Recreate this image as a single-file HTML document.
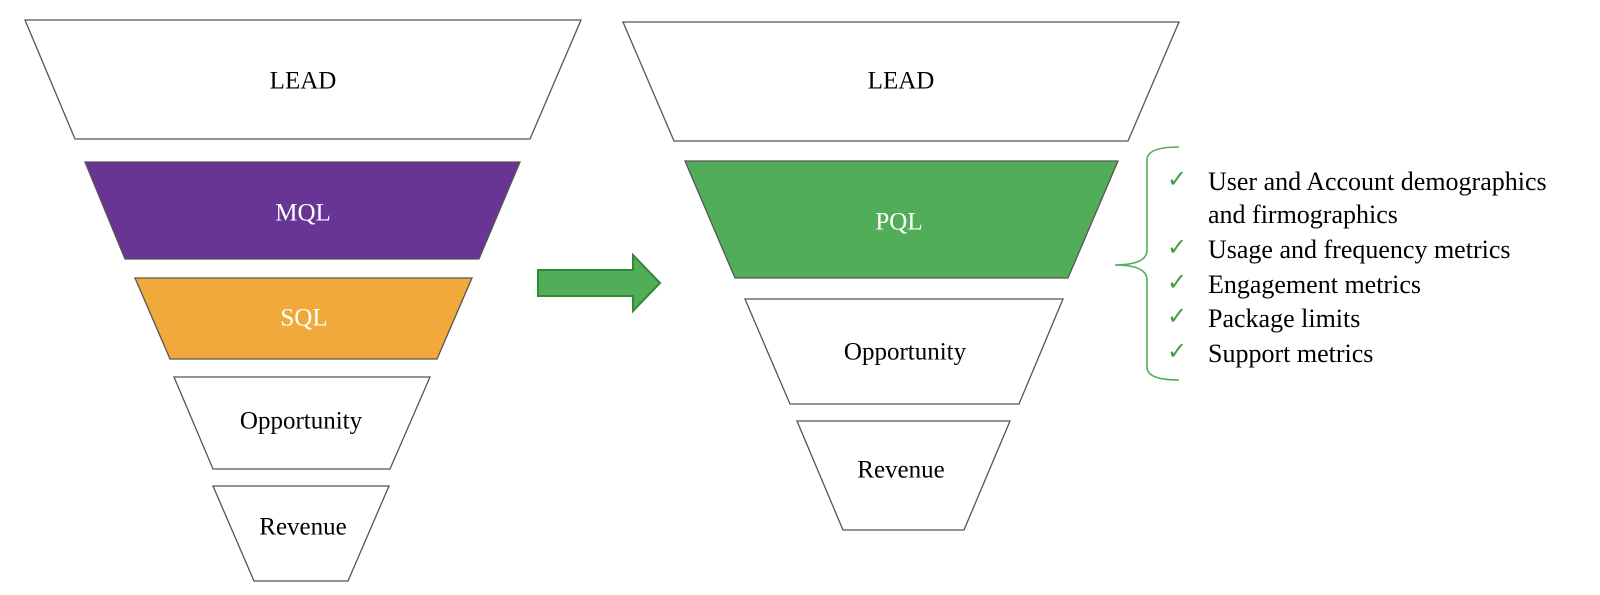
<!DOCTYPE html>
<html><head><meta charset="utf-8"><style>
html,body{margin:0;padding:0;background:#fff;}
svg{display:block;}
text{font-family:"Liberation Serif",serif;}
</style></head><body>
<svg width="1600" height="595" viewBox="0 0 1600 595" xmlns="http://www.w3.org/2000/svg">
<g stroke="#555" stroke-width="1.3">
<polygon points="25,20 581,20 530,139 75,139" fill="#fff"/>
<polygon points="85,162 520,162 479,259 125,259" fill="#683594"/>
<polygon points="135,278 472,278 437,359 170,359" fill="#f2a93b"/>
<polygon points="174,377 430,377 390,469 213,469" fill="#fff"/>
<polygon points="213,486 389,486 348,581 254,581" fill="#fff"/>
<polygon points="623,22 1179,22 1128,141 674,141" fill="#fff"/>
<polygon points="685,161 1118,161 1068,278 735,278" fill="#52ad59"/>
<polygon points="745,299 1063,299 1019,404 790,404" fill="#fff"/>
<polygon points="797,421 1010,421 964,530 843,530" fill="#fff"/>
</g>
<polygon points="538,270 633,270 633,255 660,283 633,311 633,296 538,296" fill="#52ad59" stroke="#2f8a36" stroke-width="2"/>
<g font-size="25" text-anchor="middle" dominant-baseline="central">
<text x="303" y="81" fill="#000">LEAD</text>
<text x="303" y="213" fill="#fff">MQL</text>
<text x="304" y="318" fill="#fff">SQL</text>
<text x="301" y="421" fill="#000">Opportunity</text>
<text x="303" y="527" fill="#000">Revenue</text>
<text x="901" y="81" fill="#000">LEAD</text>
<text x="899" y="222" fill="#fff">PQL</text>
<text x="905" y="352" fill="#000">Opportunity</text>
<text x="901" y="470" fill="#000">Revenue</text>
</g>
<path d="M1179,147 Q1147,147 1147,160 L1147,250 Q1147,265 1115,265 Q1147,265 1147,280 L1147,367 Q1147,380 1179,380" fill="none" stroke="#52ad59" stroke-width="1.6"/>
<g fill="#3e9e45" font-size="24">
<text x="1167" y="187">✓</text>
<text x="1167" y="255">✓</text>
<text x="1167" y="290">✓</text>
<text x="1167" y="324">✓</text>
<text x="1167" y="359">✓</text>
</g>
<g font-size="26" fill="#000">
<text x="1208" y="190">User and Account demographics</text>
<text x="1208" y="223">and firmographics</text>
<text x="1208" y="258">Usage and frequency metrics</text>
<text x="1208" y="293">Engagement metrics</text>
<text x="1208" y="327">Package limits</text>
<text x="1208" y="362">Support metrics</text>
</g>
</svg>
</body></html>
